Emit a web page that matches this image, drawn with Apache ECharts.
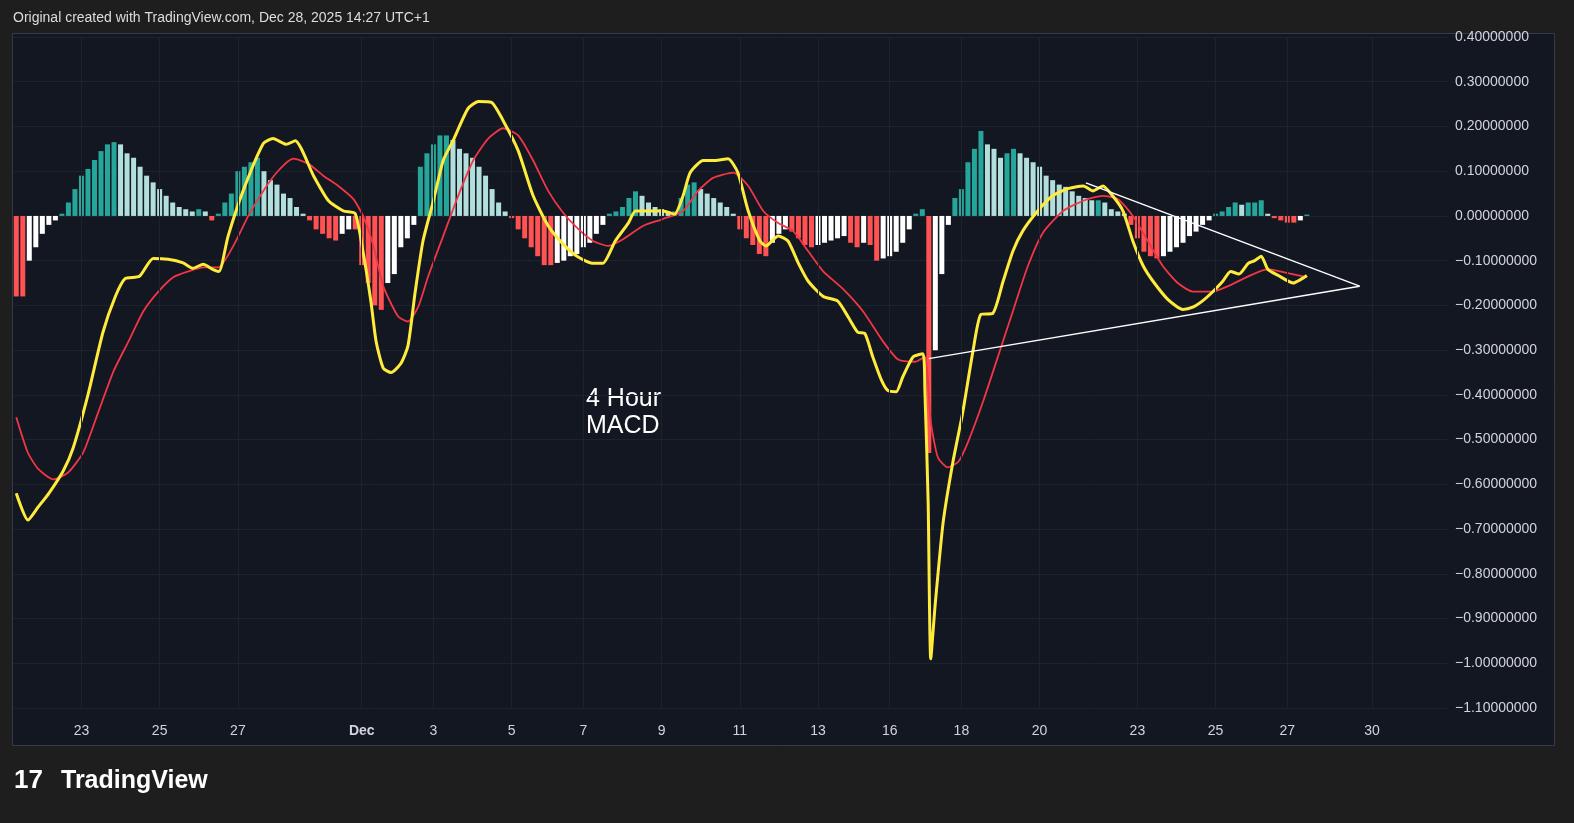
<!DOCTYPE html>
<html><head><meta charset="utf-8">
<script src="https://cdn.jsdelivr.net/npm/echarts@6/dist/echarts.min.js"></script>
<style>html,body{margin:0;background:#1e1e1e;}#c{width:1574px;height:823px;}</style>
</head><body><div id="c"></div>
<script>
const tickIdx = [10,22,34,53,64,76,87,99,111,123,134,145,157,172,184,195,208];
const tickLabels = ['23','25','27','Dec','3','5','7','9','11','13','16','18','20','23','25','27','30'];
const hist = [-0.18,-0.18,-0.1,-0.07,-0.04,-0.02,-0.01,0.005,0.03,0.06,0.09,0.105,0.125,0.145,0.16,0.165,
0.16,0.14,0.13,0.11,0.09,0.075,0.06,0.045,0.03,0.02,0.015,0.01,0.015,0.01,-0.01,0.005,0.03,0.05,0.1,0.11,0.12,0.13,
0.1,0.08,0.07,0.05,0.04,0.02,0.005,-0.01,-0.03,-0.04,-0.05,-0.055,-0.04,-0.03,-0.03,
-0.11,-0.15,-0.2,-0.21,-0.15,-0.13,-0.07,-0.05,-0.02,
0.11,0.14,0.16,0.18,0.18,0.17,0.15,0.14,0.13,0.11,0.09,0.06,0.03,0.01,
-0.005,-0.03,-0.05,-0.07,-0.09,-0.11,-0.11,-0.105,-0.1,-0.09,-0.085,-0.07,-0.06,-0.04,-0.02,
0.005,0.01,0.02,0.04,0.055,0.045,0.03,0.02,0.015,0.01,0.01,0.04,0.07,0.075,0.06,0.05,0.04,0.03,0.02,0.005,
-0.03,-0.05,-0.065,-0.085,-0.09,-0.06,-0.04,-0.03,-0.035,-0.05,-0.065,-0.07,-0.065,-0.06,-0.055,-0.05,-0.045,
-0.06,-0.07,-0.06,-0.065,-0.1,-0.095,-0.09,-0.08,-0.06,-0.03,0.005,0.015,
-0.53,-0.3,-0.13,-0.02,0.04,0.06,0.12,0.15,0.19,0.16,0.15,0.13,0.14,0.15,0.14,0.13,0.12,0.11,0.09,0.08,0.07,0.065,
0.055,0.045,0.04,0.035,0.035,0.03,0.015,0.01,0.005,
-0.02,-0.05,-0.08,-0.09,-0.095,-0.09,-0.08,-0.07,-0.06,-0.045,-0.035,-0.02,-0.01,
0.005,0.01,0.02,0.03,0.025,0.03,0.03,0.035,0.005,-0.005,-0.01,-0.015,-0.015,-0.01,0.003];
const macd = [[0,-0.62],[1.8,-0.68],[3.4,-0.65],[5,-0.62],[7.2,-0.57],[8.7,-0.52],[11,-0.40],[13.3,-0.26],[15.2,-0.18],[16.7,-0.14],[18.9,-0.135],[21,-0.095],[23.3,-0.097],[25.6,-0.105],[27.1,-0.117],[28.7,-0.108],[30.2,-0.12],[31.1,-0.124],[32.5,-0.045],[34.8,0.056],[37.9,0.162],[39.4,0.173],[41.4,0.16],[42.8,0.168],[45.6,0.09],[47.9,0.034],[50.2,0.011],[52,0.005],[53.2,-0.08],[54.4,-0.19],[55.2,-0.28],[56.3,-0.34],[57.5,-0.35],[59,-0.33],[60.1,-0.29],[61.2,-0.17],[62.4,-0.056],[64,0.034],[65.5,0.124],[67,0.168],[69.3,0.24],[70.9,0.256],[72.9,0.254],[74.7,0.213],[77,0.146],[79.3,0.045],[81.6,-0.022],[83.9,-0.063],[86.2,-0.092],[88.5,-0.106],[90,-0.106],[91.9,-0.056],[93.9,-0.016],[95,0.011],[97,0.011],[99.2,0.011],[101,0.004],[102.3,0.045],[103.4,0.097],[105.4,0.124],[107.2,0.124],[109.2,0.128],[110.7,0.097],[112.3,0.011],[114.1,-0.056],[115,-0.067],[116.9,-0.045],[118.4,-0.056],[120,-0.106],[121.5,-0.146],[123.8,-0.18],[126,-0.19],[127.6,-0.225],[129.1,-0.26],[130.2,-0.263],[131.4,-0.315],[132.7,-0.366],[133.7,-0.39],[135,-0.393],[136,-0.36],[137.6,-0.315],[139.1,-0.308],[139.4,-0.39],[139.9,-0.64],[140.3,-0.99],[141,-0.865],[142.2,-0.685],[143.7,-0.55],[145.2,-0.44],[146.8,-0.30],[148,-0.22],[149.8,-0.218],[151.4,-0.146],[152.9,-0.079],[154.4,-0.034],[156.7,0.011],[159,0.045],[161.3,0.061],[163.7,0.067],[165.2,0.056],[166.7,0.067],[168.2,0.045],[169.8,0.011],[171.3,-0.056],[172.9,-0.112],[174.4,-0.146],[176.7,-0.187],[179,-0.209],[180.5,-0.204],[182,-0.19],[183.6,-0.169],[185.1,-0.146],[186.3,-0.124],[187.6,-0.13],[189,-0.106],[190,-0.1],[191,-0.09],[192,-0.119],[193.6,-0.133],[195.9,-0.15],[197.4,-0.139],[198,-0.133]];
const signal = [[0,-0.45],[1.8,-0.53],[3.4,-0.566],[5.7,-0.589],[8,-0.573],[10.3,-0.528],[12.6,-0.438],[14.9,-0.348],[17.2,-0.281],[19.5,-0.213],[21.8,-0.169],[24.1,-0.137],[26.4,-0.124],[28.7,-0.115],[31,-0.115],[33.3,-0.067],[35.6,0],[37.9,0.056],[40.2,0.101],[42.5,0.128],[44.8,0.117],[47.1,0.09],[49.4,0.067],[51.7,0.038],[53.2,0],[54.8,-0.067],[56.3,-0.157],[58.6,-0.225],[60.1,-0.236],[61.7,-0.202],[63.2,-0.135],[65.5,-0.045],[67.8,0.045],[70.1,0.124],[72.4,0.173],[74.7,0.196],[77,0.18],[79.3,0.124],[81.6,0.056],[83.9,0.007],[86.2,-0.029],[88.5,-0.056],[90.8,-0.067],[93.1,-0.052],[96.2,-0.022],[99.2,-0.007],[102.3,0.011],[104.6,0.056],[106.9,0.085],[110,0.097],[112.3,0.067],[114.6,0.011],[116.9,-0.016],[119.2,-0.034],[121.5,-0.079],[123.8,-0.124],[126.9,-0.164],[129.9,-0.213],[133,-0.281],[135.3,-0.321],[137.9,-0.326],[139.4,-0.315],[140.3,-0.46],[141.4,-0.54],[142.9,-0.562],[144.5,-0.55],[146,-0.506],[148.3,-0.416],[150.6,-0.315],[152.9,-0.213],[155.2,-0.112],[157.5,-0.038],[160.6,0.011],[163.7,0.034],[166.7,0.045],[169,0.038],[171.3,0],[173.6,-0.056],[175.9,-0.112],[178.2,-0.15],[180.5,-0.169],[183.6,-0.169],[185.9,-0.157],[189,-0.135],[192,-0.119],[195.1,-0.128],[198,-0.137]];
const triUpper = [[164.1,0.074],[206.1,-0.157]];
const triLower = [[140.0,-0.319],[206.1,-0.157]];

const histData = hist.map((v,i)=>{
  const p = i>0?hist[i-1]:0;
  let c;
  if(v>=0) c = v>=p ? '#26a69a' : '#b2dfdb';
  else c = v<=p ? '#ff5252' : '#ffffff';
  return {value:[i,v], itemStyle:{color:c}};
});
const chart = echarts.init(document.getElementById('c'));
chart.setOption({
  backgroundColor:'#1e1e1e',
  animation:false,
  graphic:[
    {type:'rect',shape:{x:12.5,y:33.5,width:1542,height:712},style:{fill:'#131722',stroke:'#363a45',lineWidth:1},z:-10},
    {type:'text',left:13,top:11,style:{text:'Original created with TradingView.com, Dec 28, 2025 14:27 UTC+1',fill:'#dddddd',font:'14px "Liberation Sans", Arial'}},
    {type:'text',left:586,top:386,style:{text:'4 Hour\nMACD',fill:'#ffffff',font:'25px "Liberation Sans", Arial',lineHeight:27}},
    {type:'text',left:14,top:768,style:{text:'17',fill:'#ffffff',font:'bold 26px "Liberation Sans", Arial'}},
    {type:'text',left:61,top:769,style:{text:'TradingView',fill:'#ffffff',font:'bold 25px "Liberation Sans", Arial'}}
  ],
  grid:{left:13,right:127,top:37,bottom:115},
  xAxis:{type:'value',min:-0.5,max:219.5,
    axisLine:{show:false},splitLine:{show:false},axisTick:{show:false},
    axisLabel:{customValues:tickIdx,color:'#d1d4dc',fontSize:14,margin:16,
      fontFamily:'Liberation Sans',
      formatter:(v)=>{const k=tickIdx.indexOf(Math.round(v));return k<0?'':(tickLabels[k]==='Dec'?'{b|Dec}':tickLabels[k]);},
      rich:{b:{fontWeight:'bold',color:'#d1d4dc',fontSize:14}}}},
  yAxis:{type:'value',position:'right',min:-1.1,max:0.4,interval:0.1,
    axisLine:{show:false},axisTick:{show:false},
    splitLine:{lineStyle:{color:'#1e222d'}},
    axisLabel:{color:'#d1d4dc',fontSize:14,margin:8,fontFamily:'Liberation Sans',
      formatter:v=>(v<0?'\u2212':'')+Math.abs(v).toFixed(8)}},
  series:[
    {type:'bar',data:histData,barWidth:5,
     markLine:{silent:true,symbol:'none',label:{show:false},lineStyle:{color:'#1e222d',type:'solid',width:1},
       data:tickIdx.map(i=>({xAxis:i}))}},
    {type:'line',data:signal,showSymbol:false,smooth:0.2,lineStyle:{color:'#f23645',width:1.8},z:3},
    {type:'line',data:macd,showSymbol:false,smooth:0.2,lineStyle:{color:'#ffeb3b',width:3},z:4},
    {type:'line',data:triUpper,showSymbol:false,lineStyle:{color:'#ffffff',width:1.5},z:5},
    {type:'line',data:triLower,showSymbol:false,lineStyle:{color:'#ffffff',width:1.5},z:5}
  ]
});
</script></body></html>
